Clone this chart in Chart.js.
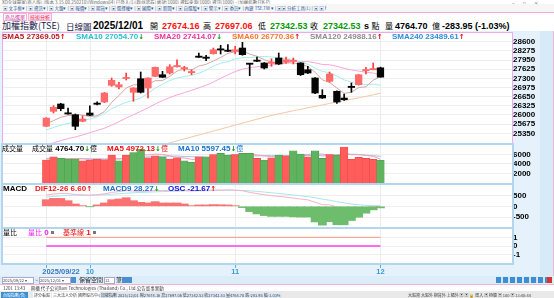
<!DOCTYPE html>
<html>
<head>
<meta charset="utf-8">
<script src="https://cdn.jsdelivr.net/npm/chart.js@4.4.1/dist/chart.umd.min.js"></script>
<style>
html, body { margin: 0; padding: 0; }
body { width: 554px; height: 298px; overflow: hidden; position: relative; background: #fff;
       font-family: "Liberation Sans", Arial, sans-serif; }
.a { position: absolute; white-space: nowrap; }
.cjk { font-family: "Noto Sans CJK TC", sans-serif; }
.tiny { font-size: 4.5px; line-height: 6px; color: #444; font-family: "Noto Sans CJK TC", sans-serif; }
.h { position: absolute; top: 21px; line-height: 10px; white-space: nowrap; }
.num { font: bold 9px "Liberation Sans", Arial, sans-serif; line-height: 10px; }
.lg { position: absolute; white-space: nowrap; font: bold 8px "Liberation Sans", Arial, sans-serif; line-height: 9px; }
.lg .c { font-family: "Noto Sans CJK TC", sans-serif; font-weight: normal; font-size: 7px; }
.up { color: #e00000; font-family: "DejaVu Sans"; font-size: 7px; }
.dn { color: #0a9a0a; font-family: "DejaVu Sans"; font-size: 7px; }
.box { display: inline-block; width: 3px; height: 3px; background: #777; margin-left: 2px; vertical-align: 1px; }
canvas { position: absolute; left: 0; }
</style>
</head>
<body>

<!-- window chrome -->
<div class="a tiny" style="left:2px;top:-1px;color:#666">XQ全球贏家(商人版) [版本 3.15.00.250210][Windows64] 已登入(1)[群益證券] 帳號[1000] 資料來源[1000] 資訊[1000] - [加權指數日K-P]</div>
<div class="a" style="left:512px;top:0;font:5px 'DejaVu Sans';color:#666;letter-spacing:8px">–▫×</div>
<div class="a" style="left:0;top:4px;width:554px;height:8px;background:#f6f6f6"></div>
<div class="a tiny" style="left:3px;top:5px;color:#2a5a9a">▣ 文字框▾ | ▣ 資訊▾ | ▣ 大盤▾ | ▣ 報價▾ | ▣ 期貨▾ | ▣ 選擇權▾ | ▣ 國際▾ | ▣ 新聞▾ | ▣ 自選股▾ | ▣ 警示▾ | ▣ 委託▾ | 內建 TSE.TW ▾ | ▣▣ 分析工具(L) | ▣ ▣ f</div>
<div class="a" style="left:0;top:12px;width:554px;height:1px;background:#f0a6d6"></div>
<div class="a tiny" style="left:3px;top:13px;height:6px;padding:0 1px;border:1px solid #f4b0d8;color:#d0309a;font-size:5px">商品選單</div>
<div class="a tiny" style="left:28px;top:13px;height:6px;padding:0 1px;border:1px solid #f4b0d8;background:#ffe6f4;color:#e02040;font-size:5px">技術分析</div>

<!-- header row -->
<div class="h cjk" style="left:2px;font-size:9px;color:#1a1a4a">加權指數(TSE)</div>
<div class="h cjk" style="left:66px;font-size:8.5px;color:#1a1a4a">日線圖</div>
<div class="h" style="left:93px;font:bold 10px 'Liberation Sans';line-height:10px">2025/12/01</div>
<div class="h cjk" style="left:150px;font-size:8px">開</div>
<div class="h num" style="left:162px;color:#ff1010">27674.16</div>
<div class="h cjk" style="left:203px;font-size:8px">高</div>
<div class="h num" style="left:215px;color:#ff1010">27697.06</div>
<div class="h cjk" style="left:258px;font-size:8px">低</div>
<div class="h num" style="left:270px;color:#0a9a0a">27342.53</div>
<div class="h cjk" style="left:310px;font-size:8px">收</div>
<div class="h num" style="left:323px;color:#0a9a0a">27342.53</div>
<div class="h num" style="left:364px">s <span class="cjk" style="font-weight:normal;font-size:8px">點</span></div>
<div class="h cjk" style="left:385px;font-size:8px">量</div>
<div class="h num" style="left:395px">4764.70</div>
<div class="h cjk" style="left:432px;font-size:8px">億</div>
<div class="h num" style="left:442px">-283.95 (-1.03%)</div>

<!-- chart frame background -->
<div class="a" style="left:0;top:31px;width:554px;height:245px;background:#e5f2fb"></div>
<div class="a" style="left:540px;top:31px;width:13px;height:253px;background:#d6eaf8;border-right:1px solid #f2b6cf"></div>

<canvas id="priceChart" width="554" height="114" style="top:31px"></canvas>
<canvas id="volChart" width="554" height="42" style="top:143px"></canvas>
<canvas id="macdChart" width="554" height="46" style="top:183px"></canvas>
<canvas id="ratioChart" width="554" height="51" style="top:227px"></canvas>

<!-- legends -->
<div class="lg" style="left:2px;top:32px;color:#b41e1e">SMA5 27369.05<span class="up">↑</span></div>
<div class="lg" style="left:76px;top:32px;color:#22c2cc">SMA10 27054.70<span class="dn">↓</span></div>
<div class="lg" style="left:154px;top:32px;color:#e8379a">SMA20 27414.07<span class="dn">↓</span></div>
<div class="lg" style="left:232px;top:32px;color:#f07828">SMA60 26770.36<span class="up">↑</span></div>
<div class="lg" style="left:310px;top:32px;color:#8c8c8c">SMA120 24988.16<span class="up">↑</span></div>
<div class="lg" style="left:392px;top:32px;color:#2a8fd6">SMA240 23489.61<span class="up">↑</span></div>

<div class="lg" style="left:2px;top:144px"><span class="c">成交量</span></div>
<div class="lg" style="left:32px;top:144px"><span class="c">成交量</span> 4764.70<span class="dn">↓</span><span class="c">億</span></div>
<div class="lg" style="left:107px;top:144px;color:#f01010">MA5 4972.13<span class="dn">↓</span><span class="c">億</span></div>
<div class="lg" style="left:178px;top:144px;color:#1a70c8">MA10 5597.45<span class="dn">↓</span><span class="c">億</span></div>

<div class="lg" style="left:3px;top:184px">MACD</div>
<div class="lg" style="left:35px;top:184px;color:#f01818">DIF12-26 6.60<span class="up">↑</span></div>
<div class="lg" style="left:103px;top:184px;color:#1a70c8">MACD9 28.27<span class="dn">↓</span></div>
<div class="lg" style="left:168px;top:184px;color:#1010e0">OSC -21.67<span class="up">↑</span></div>

<div class="lg" style="left:3px;top:228px"><span class="c">量比</span></div>
<div class="lg" style="left:28px;top:228px;color:#f020f0"><span class="c">量比</span> 0<span class="box"></span></div>
<div class="lg" style="left:63px;top:228px;color:#f01010"><span class="c">基準線</span> 1<span class="box"></span></div>

<!-- bottom controls -->
<div class="a" style="left:0;top:276px;width:554px;height:8px;background:#dcecf8"></div>
<div class="a tiny" style="left:2px;top:277px;width:30px;height:5px;background:#fff;border:1px solid #aac;font-size:4px;line-height:5px">2025/09/22 ▾</div>
<div class="a tiny" style="left:35px;top:277px;font-size:5px;line-height:6px">~</div>
<div class="a tiny" style="left:39px;top:277px;width:30px;height:5px;background:#fff;border:1px solid #aac;font-size:4px;line-height:5px">2025/12/01 ▾</div>
<div class="a" style="left:71px;top:277px;width:5px;height:6px;background:#4a90d0"></div>
<div class="a tiny" style="left:79px;top:276px;font-size:6px;line-height:8px;color:#222">保留空間</div>
<div class="a tiny" style="left:104px;top:277px;width:9px;height:5px;background:#fff;border:1px solid #aac;font-size:4px;line-height:5px">12</div>
<div class="a tiny" style="left:116px;top:276px;font-size:6px;line-height:8px;color:#222">筆</div>
<div class="a" style="left:122px;top:277px;width:10px;height:6px;background:#4a90d0"></div>
<div class="a" style="left:496px;top:277px;width:56px;height:6px;background:repeating-linear-gradient(90deg,#3d8fd2 0 5px,#cfe4f6 5px 7px)"></div>
<div class="a" style="left:547px;top:277px;width:5px;height:6px;background:#e03030"></div>
<div class="a" style="left:0;top:284px;width:554px;height:7px;background:#fff;border-top:1px solid #f2b6cf"></div>
<div class="a tiny" style="left:3px;top:285px;font-size:4.5px">1201 13:43　 興櫃 代子公司Xavi Technologies (Thailand) Co., Ltd.公告董事異動</div>
<div class="a" style="left:0;top:291px;width:554px;height:7px;background:#e9e9e9"></div>
<div class="a tiny" style="left:1px;top:292px;background:#3d8fd2;color:#fff;padding:0 2px;font-size:4px">台股指數(含)</div>
<div class="a tiny" style="left:33px;top:292px;font-size:4px;background:#fff;padding:0 1px">評分看盤</div>
<div class="a tiny" style="left:52px;top:292px;font-size:4px;background:#fff;padding:0 1px">三大法人分析</div>
<div class="a tiny" style="left:77px;top:292px;font-size:4px;background:#fff;padding:0 1px">國際股市中心</div>
<div class="a tiny" style="left:100px;top:292px;font-size:4px;background:#dde8f4;padding:0 1px">加權指數 2025/12/01 開27674.16 高27697.06 低27342.53 收27342.53 量4764.70 跌-283.95 幅-1.03%</div>
<div class="a tiny" style="left:408px;top:292px;font-size:4px">大盤資 大盤外 期貨外 上櫃外 ▣ ▣ 🔒 匯入 ▣ 極簡 ▣ 100 ▣ 13:40:44</div>

<script>
// trading days 2025/09/22 - 2025/12/01
const dates = [
    '2025/09/22', '2025/09/23', '2025/09/24', '2025/09/25', '2025/09/26', '2025/09/30',
    '2025/10/01', '2025/10/02', '2025/10/03', '2025/10/07', '2025/10/08', '2025/10/09',
    '2025/10/13', '2025/10/14', '2025/10/15', '2025/10/16', '2025/10/17', '2025/10/20',
    '2025/10/21', '2025/10/22', '2025/10/23', '2025/10/27', '2025/10/28', '2025/10/29',
    '2025/10/30', '2025/10/31', '2025/11/03', '2025/11/04', '2025/11/05', '2025/11/06',
    '2025/11/07', '2025/11/10', '2025/11/11', '2025/11/12', '2025/11/13', '2025/11/14',
    '2025/11/17', '2025/11/18', '2025/11/19', '2025/11/20', '2025/11/21', '2025/11/24',
    '2025/11/25', '2025/11/26', '2025/11/27', '2025/11/28', '2025/12/01'
];

const openPx = [25600, 26130, 26390, 26060, 26010, 25776, 26070, 26414, 26461, 27053, 26993, 27294,
    26805, 27287, 26957, 27372, 27429, 27489, 27712, 27640, 27500, 28075, 28036, 28174,
    28330, 28280, 28259, 28376, 27816, 27922, 27844, 27830, 28022, 27880, 27900, 27844,
    27606, 27312, 26698, 27195, 26840, 26602, 27000, 27074, 27571, 27606, 27674.16];
const highPx = [25905, 26330, 26414, 26247, 26035, 25975, 26329, 26471, 26800, 27312, 27160, 27489,
    26970, 27525, 27320, 27700, 27550, 27784, 27961, 27727, 27606, 28199, 28117, 28376,
    28472, 28494, 28437, 28579, 27820, 28057, 27860, 27997, 28199, 28057, 28022, 27860,
    27727, 27330, 26897, 27525, 26860, 26744, 27135, 27440, 27692, 27844, 27697.06];
const lowPx = [25590, 26070, 26150, 26030, 25478, 25760, 25980, 26354, 26440, 27018, 26922, 27241,
    26485, 26780, 26602, 27360, 27330, 27454, 27700, 27560, 27429, 28040, 27926, 28160,
    28164, 28250, 28164, 28120, 27394, 27895, 27631, 27727, 27790, 27833, 27809, 27400,
    27470, 26760, 26590, 27160, 26414, 26514, 26805, 27060, 27454, 27600, 27342.53];
const closePx = [25890, 26272, 26223, 26035, 25598, 25857, 25989, 26379, 26780, 27230, 27074, 27312,
    26957, 26805, 27312, 27692, 27337, 27710, 27740, 27670, 27525, 28046, 28011, 28316,
    28305, 28259, 28316, 28139, 27798, 27905, 27667, 27880, 27809, 27961, 27925, 27429,
    27489, 26780, 26602, 27454, 26461, 26542, 26975, 27429, 27596, 27626.48, 27342.53];

const sma5 = [25690, 25800, 25920, 25980, 26004, 25997, 25940, 25972, 26121, 26447, 26690, 26955,
    27071, 27076, 27092, 27216, 27221, 27372, 27558, 27630, 27596, 27738, 27798, 27914,
    28041, 28187, 28241, 28267, 28163, 28083, 27965, 27878, 27812, 27844, 27848, 27801,
    27723, 27517, 27245, 27151, 26957, 26768, 26807, 26972, 27001, 27234, 27369.05];
const sma10 = [25470, 25555, 25640, 25700, 25745, 25800, 25860, 25930, 26050, 26225, 26344, 26448,
    26521, 26598, 26770, 26953, 27088, 27221, 27317, 27361, 27407, 27480, 27585, 27736,
    27836, 27892, 27990, 28033, 28039, 28062, 28076, 28060, 28039, 28004, 27966, 27883,
    27800, 27664, 27545, 27500, 27379, 27245, 27162, 27109, 27076, 27095, 27054.70];
const sma20 = [24950, 25010, 25090, 25160, 25220, 25290, 25370, 25450, 25530, 25640, 25760, 25890,
    26010, 26130, 26250, 26390, 26510, 26620, 26710, 26793, 26875, 26964, 27053, 27167,
    27303, 27423, 27539, 27627, 27678, 27712, 27741, 27770, 27812, 27870, 27901, 27888,
    27895, 27849, 27792, 27781, 27728, 27652, 27601, 27556, 27521, 27489, 27414.07];
const sma60 = [null, null, null, null, null, null, null, null, null, null, null, null,
    null, null, null, null, 24940, 25010, 25080, 25150, 25220, 25290, 25360, 25430,
    25500, 25570, 25640, 25710, 25780, 25850, 25920, 25985, 26040, 26095, 26150, 26200,
    26255, 26305, 26355, 26410, 26460, 26510, 26560, 26610, 26660, 26715, 26770.36];

// 成交量 (億)
const volume = [4825, 5506, 5170, 5031, 5031, 4681, 4825, 5031, 4887, 5856, 4681, 5856,
    6413, 7093, 5300, 5712, 5506, 5031, 5300, 4681, 4351, 5506, 5506, 5994,
    6206, 5856, 5994, 6206, 6206, 5170, 4825, 5300, 5856, 5712, 6743, 6062,
    5506, 6743, 5170, 5994, 5856, 7568, 4960, 5380, 5170, 4960, 4764.70];
const volMa5 = [5000, 5080, 5150, 5120, 5113, 5084, 4948, 4920, 4891, 5056, 5056, 5262,
    5539, 5980, 5869, 6075, 6005, 5728, 5370, 5246, 4974, 4974, 5069, 5208,
    5513, 5814, 5911, 6051, 6094, 5886, 5680, 5541, 5471, 5373, 5687, 5935,
    5976, 6153, 6045, 5895, 5854, 6266, 5910, 5952, 5787, 5608, 4972.13];
const volMa10 = [5150, 5170, 5160, 5150, 5120, 5100, 5080, 5070, 5060, 5084, 5070, 5105,
    5229, 5435, 5462, 5565, 5634, 5634, 5675, 5557, 5524, 5489, 5399, 5289,
    5379, 5394, 5443, 5560, 5651, 5700, 5747, 5726, 5761, 5733, 5787, 5807,
    5759, 5812, 5709, 5791, 5894, 6121, 6031, 5998, 5841, 5731, 5597.45];

const dif = [528, 573, 600, 589, 552, 531, 518, 544, 583, 651, 686, 734,
    712, 702, 705, 739, 733, 744, 756, 751, 729, 744, 749, 760,
    762, 765, 757, 725, 652, 595, 540, 497, 463, 427, 381, 341,
    303, 187, 76, 70, -30, -98, -88, -80, -49, -15, 6.60];
const macd9 = [437, 464, 491, 511, 519, 522, 521, 525, 537, 560, 585, 615,
    634, 648, 659, 675, 687, 698, 710, 718, 720, 725, 730, 736,
    741, 746, 748, 743, 725, 699, 667, 633, 599, 565, 528, 491,
    453, 400, 335, 282, 220, 156, 107, 70, 46, 34, 28.27];
const osc = [310, 370, 370, 264, 111, 32, -10, 65, 157, 310, 343, 403,
    264, 185, 157, 218, 157, 157, 157, 111, 32, 65, 65, 80,
    72, 65, 32, -60, -247, -355, -432, -470, -470, -470, -490, -500,
    -500, -730, -880, -720, -860, -864, -663, -509, -320, -165, -74];

const volRatio = [0, 0, 0, 0, 0, 0, 0, 0, 0, 0, 0, 0, 0, 0, 0, 0, 0, 0, 0, 0, 0, 0, 0, 0,
    0, 0, 0, 0, 0, 0, 0, 0, 0, 0, 0, 0, 0, 0, 0, 0, 0, 0, 0, 0, 0, 0, 0];
const baseLine = [1, 1, 1, 1, 1, 1, 1, 1, 1, 1, 1, 1, 1, 1, 1, 1, 1, 1, 1, 1, 1, 1, 1, 1,
    1, 1, 1, 1, 1, 1, 1, 1, 1, 1, 1, 1, 1, 1, 1, 1, 1, 1, 1, 1, 1, 1, 1];

const priceTicks = [28600, 28275, 27950, 27625, 27300, 26975, 26650, 26325, 26000, 25675, 25350];
const volTicks = [6000, 4000, 2000];
const macdTicks = [500, 0, -500];
const ratioTicks = [1, 0, -1];
const monthIdx = [0, 6, 26, 46];
const monthLabels = ['2025/09/22', '10', '11', '12'];

Chart.defaults.font.family = '"Liberation Sans", Arial, sans-serif';
Chart.defaults.font.size = 8;
Chart.defaults.color = '#000';

const X_MIN = -0.95, X_MAX = 59.1;
const pts = arr => arr.map((v, i) => ({ x: i, y: v }));
const isUp = i => closePx[i] >= openPx[i];
const volUp = i => i === 0 || closePx[i] >= closePx[i - 1];

const panelPlugin = {
    id: 'panel',
    beforeDraw(chart, args, opts) {
        const a = chart.chartArea, ctx = chart.ctx, xs = chart.scales.x;
        ctx.save();
        ctx.fillStyle = '#fff';
        ctx.fillRect(a.left, a.top, a.width, a.height);
        ctx.strokeStyle = '#ececec';
        ctx.lineWidth = 1;
        monthIdx.forEach(i => {
            const x = Math.round(xs.getPixelForValue(i)) + 0.5;
            ctx.beginPath();
            ctx.moveTo(x, a.top);
            ctx.lineTo(x, a.bottom);
            ctx.stroke();
        });
        ctx.restore();
    },
    afterDraw(chart, args, opts) {
        const a = chart.chartArea, ctx = chart.ctx;
        ctx.save();
        ctx.strokeStyle = opts.color;
        ctx.lineWidth = opts.width;
        const h = opts.width / 2;
        ctx.strokeRect(a.left - h, a.top - h, a.width + opts.width, a.height + opts.width);
        if (opts.dates) {
            const xs = chart.scales.x;
            ctx.font = 'bold 7.5px "Liberation Sans", Arial, sans-serif';
            ctx.textBaseline = 'middle';
            monthIdx.forEach((idx, k) => {
                const x = xs.getPixelForValue(idx);
                ctx.strokeStyle = '#6aa8dc';
                ctx.lineWidth = 1;
                ctx.beginPath();
                ctx.moveTo(Math.round(x) + 0.5, a.bottom + 2);
                ctx.lineTo(Math.round(x) + 0.5, a.bottom + 5);
                ctx.stroke();
                ctx.fillStyle = k === 0 ? '#3b78b8' : '#3a98dc';
                ctx.textAlign = k === 0 ? 'left' : 'center';
                ctx.fillText(monthLabels[k], k === 0 ? x - 4 : x, a.bottom + 9);
            });
        }
        ctx.restore();
    }
};

function yAxis(min, max, ticks) {
    return {
        position: 'right',
        min: min,
        max: max,
        afterBuildTicks: s => { s.ticks = ticks.map(v => ({ value: v })); },
        afterFit: s => { s.width = 42; s.paddingTop = 0; s.paddingBottom = 0; },
        border: { display: false },
        grid: { color: '#eeeeee', drawTicks: false },
        ticks: { autoSkip: false, padding: 1, font: { size: 8, weight: 'bold' }, callback: v => String(v) }
    };
}

function lineSet(data, color, width) {
    return {
        type: 'line', data: pts(data), borderColor: color, borderWidth: width || 1,
        pointRadius: 0, fill: false, tension: 0, order: 5
    };
}

function makeChart(id, datasets, y, frame, bottomPad) {
    return new Chart(document.getElementById(id), {
        type: 'bar',
        data: { datasets: datasets },
        options: {
            responsive: false,
            animation: false,
            events: [],
            layout: { autoPadding: false, padding: { left: 3, right: 0, top: 2, bottom: bottomPad || 2 } },
            plugins: { legend: { display: false }, tooltip: { enabled: false }, panel: frame },
            scales: {
                x: { type: 'linear', min: X_MIN, max: X_MAX, display: false },
                y: y
            }
        },
        plugins: [panelPlugin]
    });
}

makeChart('priceChart', [
    {
        data: dates.map((d, i) => ({ x: i, y: [openPx[i], closePx[i]] })),
        backgroundColor: dates.map((d, i) => isUp(i) ? '#ff6a6a' : '#050505'),
        barThickness: 6.6, minBarLength: 1.2, grouped: false, order: 0
    },
    {
        data: dates.map((d, i) => ({ x: i, y: [lowPx[i], highPx[i]] })),
        backgroundColor: dates.map((d, i) => isUp(i) ? '#ff3a3a' : '#050505'),
        barThickness: 1, grouped: false, order: 1
    },
    lineSet(sma5, '#d6a6a6'),
    lineSet(sma10, '#a6eeee'),
    lineSet(sma20, '#f7a8dc'),
    lineSet(sma60, '#f8c6a6')
], yAxis(25006, 28909, priceTicks), { color: '#f2a8ec', width: 1 });

makeChart('volChart', [
    {
        data: pts(volume),
        backgroundColor: dates.map((d, i) => volUp(i) ? '#ff5c5c' : '#5fb35f'),
        borderColor: dates.map((d, i) => volUp(i) ? '#f04848' : '#4a9e4a'),
        borderWidth: 0.6, barThickness: 7.6, order: 0
    },
    lineSet(volMa5, '#f2a0b8'),
    lineSet(volMa10, '#a6bfe6')
], yAxis(0, 7980, volTicks), { color: '#b3d6ef', width: 2 });

makeChart('macdChart', [
    {
        data: pts(osc),
        backgroundColor: osc.map(v => v >= 0 ? '#f87272' : '#6dbd6d'),
        barThickness: 8.1, order: 2
    },
    lineSet(dif, '#f8b2c8'),
    lineSet(macd9, '#a8e6f0')
], yAxis(-965, 995, macdTicks), { color: '#b3d6ef', width: 2 });

makeChart('ratioChart', [
    lineSet(baseLine, '#f6a898', 1.4),
    lineSet(volRatio, '#ff3cf0', 1.6)
], yAxis(-1.98, 1.98, ratioTicks), { color: '#b3d6ef', width: 2, dates: true }, 15);
</script>
</body>
</html>
